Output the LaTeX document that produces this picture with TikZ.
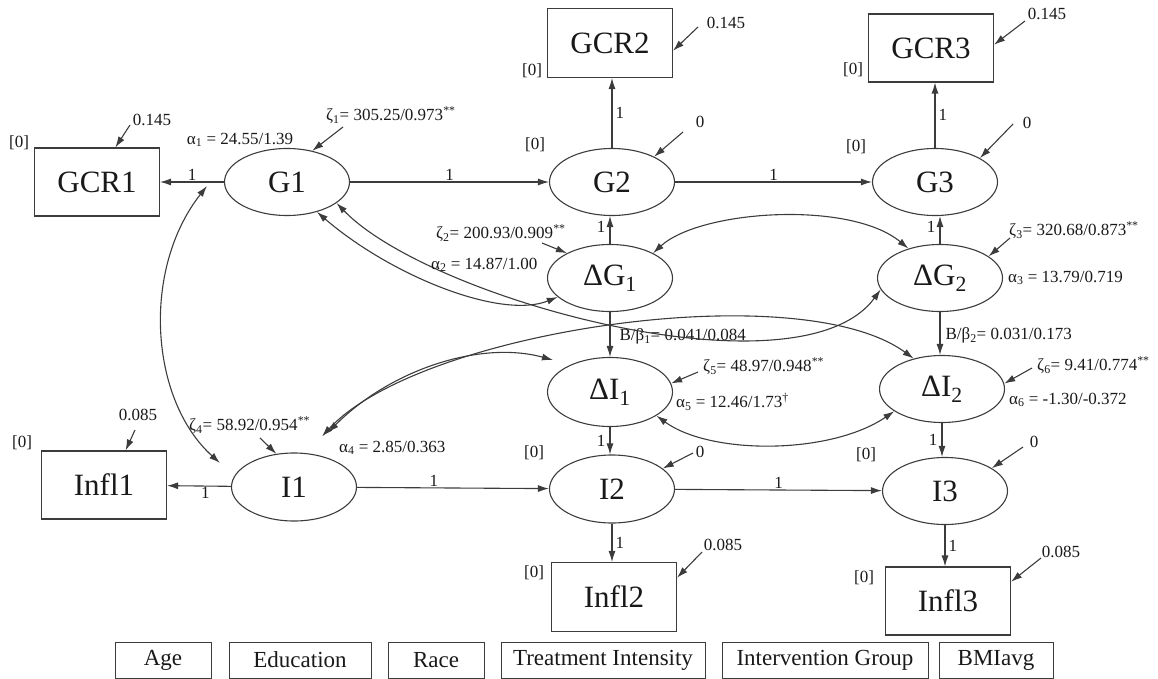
\documentclass[tikz,border=0pt]{standalone}
\usepackage{fontspec}
\setmainfont{Liberation Serif}
\usetikzlibrary{arrows.meta, positioning, calc, shapes.geometric}
\definecolor{edgegray}{RGB}{60,60,60}
\definecolor{textgray}{RGB}{25,25,25}

\begin{document}
\begin{tikzpicture}[x=1pt, y=-1pt, text=textgray,
  latent/.style={ellipse, draw=edgegray, line width=1.1pt, minimum width=125pt, minimum height=67pt, inner sep=0pt, font=\fontsize{31}{31}\selectfont},
  observed/.style={rectangle, draw=edgegray, line width=1.1pt, minimum width=125pt, minimum height=68pt, inner sep=0pt, font=\fontsize{31}{31}\selectfont},
  covar/.style={rectangle, draw=edgegray, line width=0.9pt, minimum height=36pt, inner sep=0pt, font=\fontsize{23}{23}\selectfont},
  lbl/.style={inner sep=1pt, font=\fontsize{17}{17}\selectfont},
  regpath/.style={draw=edgegray, line width=1.1pt, -{Latex[length=11pt,width=7pt]}},
  covpath/.style={draw=edgegray, line width=1.1pt, {Latex[length=11pt,width=7pt]}-{Latex[length=11pt,width=7pt]}}]
  \useasboundingbox (0,0) rectangle (1158,679);

  % measured and latent variables
  \node[observed] (GCR1) at (97,182) {GCR1};
  \node[observed, minimum height=69pt] (GCR2) at (610,43) {GCR2};
  \node[observed] (GCR3) at (931,48) {GCR3};
  \node[latent] (G1) at (287,182) {G1};
  \node[latent] (G2) at (612,182) {G2};
  \node[latent] (G3) at (935,182) {G3};
  \node[latent] (dG1) at (610,278) {ΔG\textsubscript{1}};
  \node[latent] (dG2) at (940,278) {ΔG\textsubscript{2}};
  \node[latent, minimum height=69pt] (dI1) at (610,392) {ΔI\textsubscript{1}};
  \node[latent] (dI2) at (942,389) {ΔI\textsubscript{2}};
  \node[latent, minimum height=68pt] (I1) at (294,487) {I1};
  \node[latent, minimum height=68pt] (I2) at (612,489) {I2};
  \node[latent] (I3) at (945,491) {I3};
  \node[observed] (Infl1) at (104,485) {Infl1};
  \node[observed, minimum height=69pt] (Infl2) at (614,597) {Infl2};
  \node[observed] (Infl3) at (948,601) {Infl3};

  % covariates
  \node[covar, minimum width=96pt] (age) at (163,660) {Age};
  \node[covar, minimum width=142pt] (edu) at (300,660) {Education};
  \node[covar, minimum width=96pt] (race) at (436,660) {Race};
  \node[covar, minimum width=204pt] (treat) at (603,660) {Treatment Intensity};
  \node[covar, minimum width=206pt] (group) at (825,660) {Intervention Group};
  \node[covar, minimum width=114pt] (bmi) at (996,660) {BMIavg};

  % loadings and paths
  \draw[regpath] (G1) -- node[lbl, above] {1} (GCR1);
  \draw[regpath] (G1) -- node[lbl, above] {1} (G2);
  \draw[regpath] (G2) -- node[lbl, above] {1} (G3);
  \draw[regpath] (G2) -- node[lbl, right, xshift=2pt] {1} (G2 |- GCR2.south);
  \draw[regpath] (G3) -- node[lbl, right, xshift=2pt] {1} (G3 |- GCR3.south);
  \draw[regpath] (dG1) -- node[lbl, left, xshift=-3pt, yshift=3pt] {1} (dG1 |- G2.south);
  \draw[regpath] (dG2) -- node[lbl, left, xshift=-3pt, yshift=3pt] {1} (dG2 |- G3.south);
  \draw[regpath] (dG1) -- node[lbl, right, xshift=8pt, yshift=-2pt] {B/β\textsubscript{1}= 0.041/0.084} (dG1 |- dI1.north);
  \draw[regpath] (dG2) -- node[lbl, right, xshift=4pt, yshift=-2pt] {B/β\textsubscript{2}= 0.031/0.173} (dG2 |- dI2.north);
  \draw[regpath] (dI1) -- node[lbl, left, xshift=-3pt] {1} (dI1 |- I2.north);
  \draw[regpath] (dI2) -- node[lbl, left, xshift=-3pt] {1} (dI2 |- I3.north);
  \draw[regpath] (I1) -- node[lbl, below, pos=0.4] {1} (Infl1);
  \draw[regpath] (I1) -- node[lbl, above, pos=0.4] {1} (I2);
  \draw[regpath] (I2) -- node[lbl, above] {1} (I3);
  \draw[regpath] (I2) -- node[lbl, right, xshift=2pt] {1} (I2 |- Infl2.north);
  \draw[regpath] (I3) -- node[lbl, right, xshift=2pt] {1} (I3 |- Infl3.north);

  % covariances
  \coordinate (g1L) at ($(G1.west)+(-17,4)$);
  \coordinate (i1L) at ($(I1.west)+(-11,-24)$);
  \coordinate (i1a) at ($(I1.north)+(28,-16)$);
  \coordinate (i1b) at ($(I1.north)+(34,-20)$);
  \coordinate (dI1s) at ($(dI1.west)+(6,-32)$);
  \draw[covpath] (g1L) .. controls (141,270) and (150,400) .. (i1L);
  \draw[covpath] (G1.-45) .. controls (390,275) and (500,320) .. (dG1.200);
  \draw[covpath] (G1.-23) .. controls (430,300) and (800,400) .. (dG2.191);
  \draw[covpath] (i1a) .. controls (420,330) and (800,275) .. (dI2.133);
  \draw[covpath] (i1b) .. controls (390,370) and (480,340) .. (dI1s);
  \draw[covpath] (dG1.30) .. controls (700,210) and (850,200) .. (dG2.137);
  \draw[covpath] (dI1.-27) .. controls (710,455) and (830,455) .. (dI2.205);

  % error terms and intercepts
  \node[lbl] (eGCR1) at (152,120) {0.145};
  \node[lbl] (eGCR2) at (726,23) {0.145};
  \node[lbl] (eGCR3) at (1047,14) {0.145};
  \node[lbl] (eG2) at (700,122) {0};
  \node[lbl] (eG3) at (1027,123) {0};
  \node[lbl] (eI2) at (700,452) {0};
  \node[lbl] (eI3) at (1034,442) {0};
  \node[lbl] (eInfl1) at (138,415) {0.085};
  \node[lbl] (eInfl2) at (723,545) {0.085};
  \node[lbl] (eInfl3) at (1061,552) {0.085};
  \node[lbl, anchor=west] (zG1) at (325,115) {ζ\textsubscript{1}= 305.25/0.973\textsuperscript{**}};
  \node[lbl, anchor=west] (zdG1) at (435,233) {ζ\textsubscript{2}= 200.93/0.909\textsuperscript{**}};
  \node[lbl, anchor=west] (zdG2) at (1008,230) {ζ\textsubscript{3}= 320.68/0.873\textsuperscript{**}};
  \node[lbl, anchor=west] (zI1) at (188,425) {ζ\textsubscript{4}= 58.92/0.954\textsuperscript{**}};
  \node[lbl, anchor=west] (zdI1) at (702,366) {ζ\textsubscript{5}= 48.97/0.948\textsuperscript{**}};
  \node[lbl, anchor=west] (zdI2) at (1036,365) {ζ\textsubscript{6}= 9.41/0.774\textsuperscript{**}};
  \node[lbl] (aG1) at (240,140) {α\textsubscript{1} = 24.55/1.39};
  \node[lbl, anchor=west] (adG1) at (430,265) {α\textsubscript{2} = 14.87/1.00};
  \node[lbl, anchor=west] (adG2) at (1007,278) {α\textsubscript{3} = 13.79/0.719};
  \node[lbl, anchor=west] (aI1) at (338,448) {α\textsubscript{4} = 2.85/0.363};
  \node[lbl, anchor=west] (adI1) at (675,402) {α\textsubscript{5} = 12.46/1.73\textsuperscript{†}};
  \node[lbl, anchor=west] (adI2) at (1008,400) {α\textsubscript{6} = -1.30/-0.372};
  \node[lbl] (mGCR1) at (19,143) {[0]};
  \node[lbl] (mGCR2) at (532,71) {[0]};
  \node[lbl] (mGCR3) at (853,70) {[0]};
  \node[lbl] (mG2) at (535,145) {[0]};
  \node[lbl] (mG3) at (856,147) {[0]};
  \node[lbl] (mI2) at (534,453) {[0]};
  \node[lbl] (mI3) at (866,455) {[0]};
  \node[lbl] (mInfl1) at (22,443) {[0]};
  \node[lbl] (mInfl2) at (534,573) {[0]};
  \node[lbl] (mInfl3) at (864,578) {[0]};

  \coordinate (sGCR1) at (130,125);
  \coordinate (sGCR2) at (698,27);
  \coordinate (sGCR3) at (1025,21);
  \coordinate (sG1) at (343,127);
  \coordinate (sG2) at (683,132);
  \coordinate (sG3) at (1013,124);
  \coordinate (sdG1) at (542,243);
  \coordinate (sdG2) at (1010,238);
  \coordinate (sI1) at (260,438);
  \coordinate (sdI1) at (698,372);
  \coordinate (sdI2) at (1032,368);
  \coordinate (sI2) at (693,453);
  \coordinate (sI3) at (1023,447);
  \coordinate (sInfl1) at (135,430);
  \coordinate (sInfl2) at (702,552);
  \coordinate (sInfl3) at (1041,558);
  \draw[regpath] (sGCR1) -- (GCR1.62);
  \draw[regpath] (sGCR2) -- (GCR2.-7);
  \draw[regpath] (sGCR3) -- (GCR3.3);
  \draw[regpath] (sG1) -- (G1.51);
  \draw[regpath] (sG2) -- (G2.31);
  \draw[regpath] (sG3) -- (G3.28);
  \draw[regpath] (sdG1) -- (dG1.150);
  \draw[regpath] (sdG2) -- (dG2.24);
  \draw[regpath] (sI1) -- (I1.118);
  \draw[regpath] (sdI1) -- (dI1.8);
  \draw[regpath] (sdI2) -- (dI2.5);
  \draw[regpath] (sI2) -- (I2.22);
  \draw[regpath] (sI3) -- (I3.26);
  \draw[regpath] (sInfl1) -- (Infl1.58);
  \draw[regpath] (sInfl2) -- (Infl2.17);
  \draw[regpath] (sInfl3) -- (Infl3.17);
\end{tikzpicture}
\end{document}
